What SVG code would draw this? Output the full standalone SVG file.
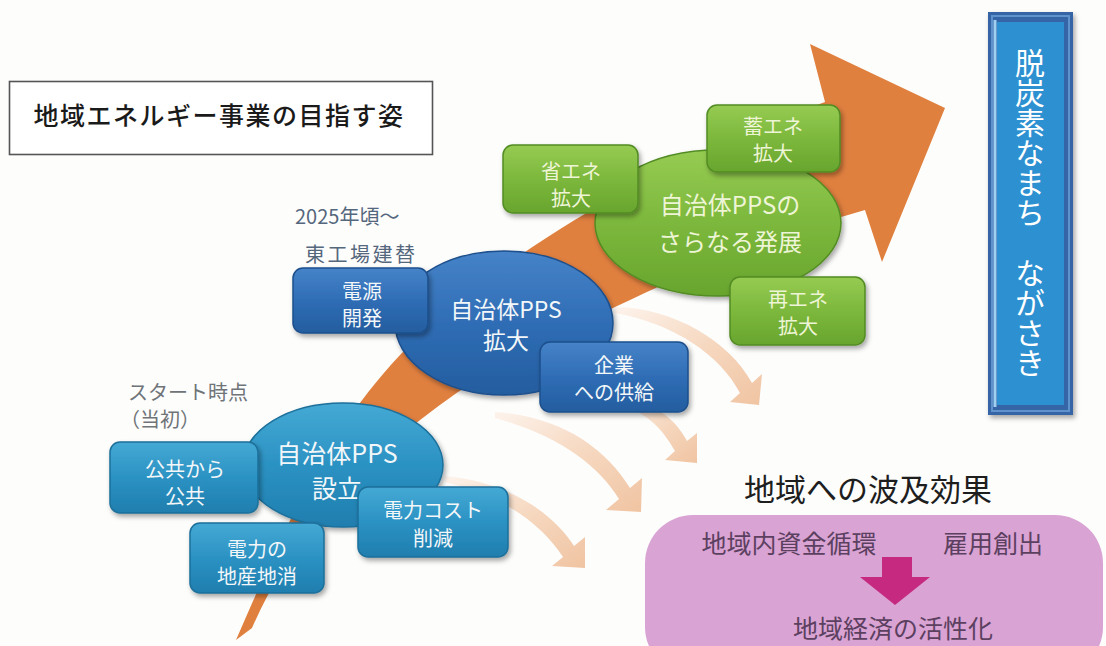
<svg xmlns="http://www.w3.org/2000/svg" width="1106" height="646" viewBox="0 0 1106 646">
<style>
text{font-family:"Noto Sans CJK JP","Noto Sans",sans-serif;dominant-baseline:central;text-anchor:middle}
.bt{fill:#f3f7f9;font-size:20px}
.et{fill:#f3f7f9;font-size:25px}
.gt{fill:#eef5d6}
.nb{stroke-width:1.5}
.gray{fill:#6f7478;font-size:20px;text-anchor:start}
.bluegray{fill:#55677d;font-size:20px;text-anchor:start}
</style>
<defs>
<filter id="sh" x="-20%" y="-20%" width="140%" height="150%">
<feDropShadow dx="2" dy="3" stdDeviation="2.5" flood-color="#000" flood-opacity="0.35"/>
</filter>
<linearGradient id="teal" x1="0" y1="0" x2="0" y2="1">
<stop offset="0" stop-color="#45a9d4"/><stop offset="0.5" stop-color="#2b92c3"/><stop offset="1" stop-color="#1f7eae"/>
</linearGradient>
<linearGradient id="blue" x1="0" y1="0" x2="0" y2="1">
<stop offset="0" stop-color="#4683c8"/><stop offset="0.5" stop-color="#2f6db5"/><stop offset="1" stop-color="#245d9f"/>
</linearGradient>
<linearGradient id="green" x1="0" y1="0" x2="0" y2="1">
<stop offset="0" stop-color="#96cb52"/><stop offset="0.5" stop-color="#7cb83c"/><stop offset="1" stop-color="#68a52e"/>
</linearGradient>
<linearGradient id="peach" x1="0" y1="0" x2="1" y2="1">
<stop offset="0" stop-color="#fdf3ec"/><stop offset="0.5" stop-color="#f6d8c0"/><stop offset="1" stop-color="#f0c4a2"/>
</linearGradient>
</defs>
<rect width="1106" height="646" fill="#fdfdfc"/>

<g id="title">
<rect x="9.5" y="81.5" width="423" height="73" fill="#fff" stroke="#555" stroke-width="1.6"/>
<text x="219" y="114" style="font-size:25px;letter-spacing:1.5px;fill:#1a1a1a;font-weight:500">地域エネルギー事業の目指す姿</text>
</g>

<g id="connectors">
<path id="main-arrow" d="M236,640 C280,540 320,440 400,355 C500,255 640,170 825,102 L810,44 L945,108 L882,262 L865,210 C720,250 560,330 458,392 C360,460 290,540 252,628 Z" fill="#e0803f"/>
<path d="M615,307 C675,308 730,342 752,383 L762,374 L759,405 L730,402 L740,393 C720,355 675,324 615,313 Z" fill="url(#peach)"/>
<path d="M615,398 C652,400 675,418 687,441 L697,433 L697,463 L665,460 L675,451 C662,428 645,410 615,404 Z" fill="url(#peach)"/>
<path d="M495,412 C560,416 606,448 630,488 L642,478 L641,512 L606,510 L619,499 C598,465 558,435 495,418 Z" fill="url(#peach)"/>
<path d="M445,476 C508,482 552,512 574,546 L585,537 L585,568 L552,566 L563,557 C542,525 505,496 445,482 Z" fill="url(#peach)"/>
</g>

<g id="stage1">
<text class="gray"><tspan x="128" y="391">スタート時点</tspan><tspan x="120" y="418">（当初）</tspan></text>
<ellipse cx="343" cy="465" rx="100" ry="62" fill="url(#teal)" stroke="#1b6f9a" class="nb" filter="url(#sh)"/>
<text class="et"><tspan x="337" y="452">自治体PPS</tspan><tspan x="337" y="487">設立</tspan></text>
<g id="n-kokyo">
<rect x="110" y="442" width="148" height="71" rx="10" fill="url(#teal)" stroke="#1b6f9a" class="nb" filter="url(#sh)"/>
<text class="bt"><tspan x="185" y="468">公共から</tspan><tspan x="185" y="495">公共</tspan></text>
</g>
<g id="n-chisan">
<rect x="190" y="523" width="134" height="70" rx="10" fill="url(#teal)" stroke="#1b6f9a" class="nb" filter="url(#sh)"/>
<text class="bt"><tspan x="257" y="548">電力の</tspan><tspan x="257" y="575">地産地消</tspan></text>
</g>
<g id="n-cost">
<rect x="358" y="487" width="150" height="70" rx="10" fill="url(#teal)" stroke="#1b6f9a" class="nb" filter="url(#sh)"/>
<text class="bt"><tspan x="433" y="509">電力コスト</tspan><tspan x="433" y="537">削減</tspan></text>
</g>
</g>

<g id="stage2">
<text class="bluegray" x="295" y="215">2025年頃～</text>
<text class="bluegray" x="305" y="253" style="letter-spacing:2.5px">東工場建替</text>
<ellipse cx="504" cy="323" rx="109" ry="72" fill="url(#blue)" stroke="#1d4f8c" class="nb" filter="url(#sh)"/>
<text class="et" style="font-size:23px"><tspan x="506" y="308">自治体PPS</tspan><tspan x="506" y="339">拡大</tspan></text>
<g id="n-dengen">
<rect x="293" y="268" width="135" height="65" rx="10" fill="url(#blue)" stroke="#1d4f8c" class="nb" filter="url(#sh)"/>
<text class="bt"><tspan x="362" y="290">電源</tspan><tspan x="362" y="317">開発</tspan></text>
</g>
<g id="n-kigyo">
<rect x="540" y="342" width="148" height="70" rx="10" fill="url(#blue)" stroke="#1d4f8c" class="nb" filter="url(#sh)"/>
<text class="bt"><tspan x="614" y="364">企業</tspan><tspan x="614" y="391">への供給</tspan></text>
</g>
</g>

<g id="stage3">
<ellipse cx="718" cy="223" rx="123" ry="73" fill="url(#green)" stroke="#528c24" class="nb" filter="url(#sh)"/>
<text class="gt" style="font-size:24px"><tspan x="730" y="203">自治体PPSの</tspan><tspan x="730" y="240">さらなる発展</tspan></text>
<g id="n-shoene">
<rect x="503" y="145" width="135" height="68" rx="10" fill="url(#green)" stroke="#528c24" class="nb" filter="url(#sh)"/>
<text class="gt" style="font-size:20px"><tspan x="571" y="170">省エネ</tspan><tspan x="571" y="197">拡大</tspan></text>
</g>
<g id="n-chikuene">
<rect x="707" y="105" width="133" height="67" rx="10" fill="url(#green)" stroke="#528c24" class="nb" filter="url(#sh)"/>
<text class="gt" style="font-size:20px"><tspan x="773" y="125">蓄エネ</tspan><tspan x="773" y="152">拡大</tspan></text>
</g>
<g id="n-saiene">
<rect x="730" y="277" width="135" height="68" rx="10" fill="url(#green)" stroke="#528c24" class="nb" filter="url(#sh)"/>
<text class="gt" style="font-size:20px"><tspan x="798" y="298">再エネ</tspan><tspan x="798" y="325">拡大</tspan></text>
</g>
</g>

<g id="goal">
<rect x="988" y="12" width="85" height="403" fill="#3565a6" filter="url(#sh)"/>
<rect x="992" y="16" width="77" height="395" fill="none" stroke="#5f93cc" stroke-width="2"/>
<rect x="997" y="22" width="67" height="383" fill="#2c90d1"/>
<line x1="995" y1="20" x2="995" y2="407" stroke="#9fd0ef" stroke-width="3"/>
<text x="1030" y="48" style="writing-mode:vertical-rl;text-anchor:start;dominant-baseline:auto;font-size:30px;fill:#fff">脱炭素なまち　ながさき</text>
</g>

<g id="effects">
<text x="868" y="487" style="font-size:31px;fill:#1e1e1e">地域への波及効果</text>
<rect x="645" y="515" width="458" height="160" rx="48" fill="#d9a3d4"/>
<text x="789" y="542" style="font-size:25px;fill:#5c4060">地域内資金循環</text>
<text x="993" y="542" style="font-size:25px;fill:#5c4060">雇用創出</text>
<path d="M882,557 H912 V577 H930 L895,605 L860,577 H882 Z" fill="#c62a80"/>
<text x="893" y="627" style="font-size:25px;fill:#5c4060">地域経済の活性化</text>
</g>
</svg>
